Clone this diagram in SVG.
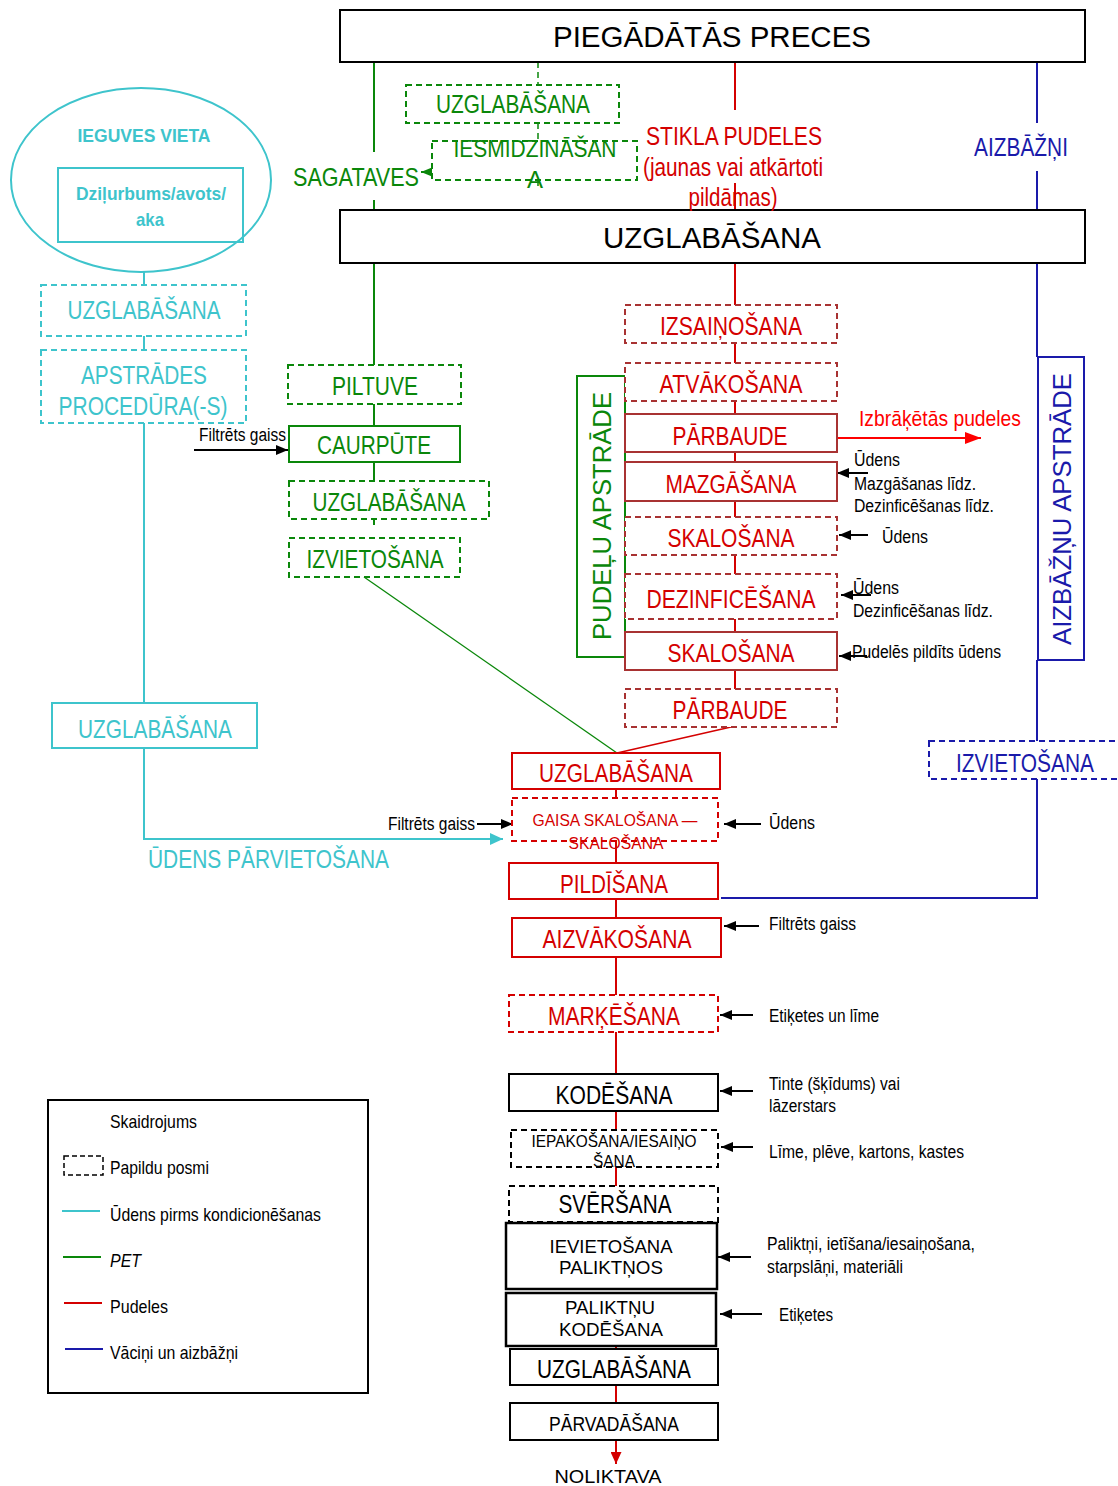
<svg xmlns="http://www.w3.org/2000/svg" width="1118" height="1486" viewBox="0 0 1118 1486">
<defs>
<style>
.n{font-family:"Liberation Sans Narrow","Liberation Sans","Arial Narrow",Arial,sans-serif}
.r{font-family:"Liberation Sans",Arial,sans-serif}
.b{font-weight:bold}
.i{font-style:italic}
.c{text-anchor:middle}
.fC{fill:#3ec4cc}.fG{fill:#0a870a}.fR{fill:#d40000}.fRR{fill:#ff0000}.fB{fill:#1a1aaa}.fK{fill:#000}
.box{fill:#fff;stroke-width:2}
.d{stroke-dasharray:6 4}
.kC{stroke:#3ec4cc}.kG{stroke:#0a870a}.kR{stroke:#d40000}.kDR{stroke:#a83232}.kB{stroke:#1a1aaa}.kK{stroke:#000}
.ln{fill:none;stroke-width:2}
.t17{font-size:17px}.t18{font-size:18px}.t19{font-size:19px}.t21{font-size:21px}.t22{font-size:22px}.t24{font-size:24px}.t25{font-size:25px}.t29{font-size:29.5px}
</style>
<marker id="aK" markerUnits="userSpaceOnUse" markerWidth="12" markerHeight="10" viewBox="0 0 12 10" refX="12" refY="5" orient="auto"><path d="M0,0L12,5L0,10z" fill="#000"/></marker>
<marker id="aG" markerUnits="userSpaceOnUse" markerWidth="11" markerHeight="9" viewBox="0 0 11 9" refX="11" refY="4.5" orient="auto"><path d="M0,0L11,4.5L0,9z" fill="#0a870a"/></marker>
<marker id="aC" markerUnits="userSpaceOnUse" markerWidth="13" markerHeight="12" viewBox="0 0 13 12" refX="13" refY="6" orient="auto"><path d="M0,0L13,6L0,12z" fill="#3ec4cc"/></marker>
<marker id="aRR" markerUnits="userSpaceOnUse" markerWidth="16" markerHeight="12" viewBox="0 0 16 12" refX="16" refY="6" orient="auto"><path d="M0,0L16,6L0,12z" fill="#ff0000"/></marker>
<marker id="aR" markerUnits="userSpaceOnUse" markerWidth="12" markerHeight="11" viewBox="0 0 12 11" refX="12" refY="5.5" orient="auto"><path d="M0,0L12,5.5L0,11z" fill="#d40000"/></marker>
</defs>
<rect width="1118" height="1486" fill="#fff"/>

<g id="connectors">
  <path class="ln kG" d="M374,62V152M374,200V210M374,263V365M374,404V426M374,462V481M374,519V525"/>
  <path class="ln kG" d="M364,577L617,753" style="stroke-width:1.3"/>
  <path class="ln kG d" style="stroke-width:1.5" d="M538,62V85M538,123V141M538,180V190"/>
  <path class="ln kG" d="M458,172H421" marker-end="url(#aG)"/>
  <path class="ln kR" d="M735,62V110M735,183V210M735,263V305M735,343V363M735,401V414M735,452V462M735,501V517M735,555V574M735,619V632M735,670V689"/>
  <path class="ln kR" style="stroke-width:1.5" d="M731,727L617,753"/>
  <path class="ln kR" d="M616,789V798M616,841V863M616,899V918M616,957V995M616,1032V1074M616,1111V1130M616,1167V1186M616,1346V1349M616,1385V1403"/>
  <path class="ln kR" d="M616,1440V1464" marker-end="url(#aR)"/>
  <path class="ln kB" d="M1037,62V123M1037,171V210M1037,263V357M1037,660V741M1037,779V898H721"/>
  <path class="ln kC" d="M144,272V285M144,336V350M144,423V703"/>
  <path class="ln kC" d="M144,748V839H503" marker-end="url(#aC)"/>
  <path class="ln" style="stroke:#ff0000" d="M838,438H981" marker-end="url(#aRR)"/>
  <g class="ln kK">
    <path d="M194,450H288" marker-end="url(#aK)"/>
    <path d="M868,473H837" marker-end="url(#aK)"/>
    <path d="M868,535H839" marker-end="url(#aK)"/>
    <path d="M871,595H841" marker-end="url(#aK)"/>
    <path d="M867,656H839" marker-end="url(#aK)"/>
    <path d="M477,824H513" marker-end="url(#aK)"/>
    <path d="M761,824H724" marker-end="url(#aK)"/>
    <path d="M759,926H724" marker-end="url(#aK)"/>
    <path d="M753,1015H720" marker-end="url(#aK)"/>
    <path d="M753,1091H720" marker-end="url(#aK)"/>
    <path d="M753,1147H721" marker-end="url(#aK)"/>
    <path d="M751,1257H718" marker-end="url(#aK)"/>
    <path d="M762,1314H720" marker-end="url(#aK)"/>
  </g>
</g>

<g id="piegadatas-preces">
  <rect class="box kK" x="340" y="10" width="745" height="52"/>
  <text class="r t29 fK c" x="712" y="47">PIEGĀDĀTĀS PRECES</text>
</g>
<g id="uzglabasana-main">
  <rect class="box kK" x="340" y="210" width="745" height="53"/>
  <text class="r t29 fK c" x="712" y="248">UZGLABĀŠANA</text>
</g>

<g id="ieguves-vieta">
  <ellipse cx="141" cy="180" rx="130" ry="92" fill="none" stroke="#3ec4cc" stroke-width="2"/>
  <text class="n b t19 fC c" x="144" y="142" textLength="133" lengthAdjust="spacingAndGlyphs">IEGUVES VIETA</text>
  <rect x="58" y="168" width="185" height="74" fill="none" stroke="#3ec4cc" stroke-width="2"/>
  <text class="n b t19 fC c" x="151" y="200" textLength="150" lengthAdjust="spacingAndGlyphs">Dziļurbums/avots/</text>
  <text class="n b t19 fC c" x="150" y="226" textLength="28" lengthAdjust="spacingAndGlyphs">aka</text>
</g>
<g id="uzglabasana-cyan1">
  <rect class="box kC d" x="41" y="285" width="205" height="51"/>
  <text class="n t25 fC c" x="144" y="319" textLength="153" lengthAdjust="spacingAndGlyphs">UZGLABĀŠANA</text>
</g>
<g id="apstrades-proceduras">
  <rect class="box kC d" x="41" y="350" width="205" height="73"/>
  <text class="n t25 fC c" x="144" y="384" textLength="126" lengthAdjust="spacingAndGlyphs">APSTRĀDES</text>
  <text class="n t25 fC c" x="143" y="415" textLength="169" lengthAdjust="spacingAndGlyphs">PROCEDŪRA(-S)</text>
</g>
<g id="uzglabasana-cyan2">
  <rect class="box kC" x="52" y="703" width="205" height="45"/>
  <text class="n t25 fC c" x="155" y="738" textLength="154" lengthAdjust="spacingAndGlyphs">UZGLABĀŠANA</text>
</g>
<g id="udens-parvietosana">
  <text class="n t25 fC" x="148" y="868" textLength="241" lengthAdjust="spacingAndGlyphs">ŪDENS PĀRVIETOŠANA</text>
</g>

<g id="uzglabasana-green-top">
  <rect class="box kG d" x="406" y="85" width="213" height="38"/>
  <text class="n t25 fG c" x="513" y="113" textLength="154" lengthAdjust="spacingAndGlyphs">UZGLABĀŠANA</text>
</g>
<g id="iesmidzinasana">
  <rect class="box kG d" x="432" y="141" width="205" height="39"/>
  <text class="n t24 fG c" x="535" y="157" textLength="163" lengthAdjust="spacingAndGlyphs">IESMIDZINĀŠAN</text>
  <text class="n t24 fG c" x="535" y="188">A</text>
</g>
<g id="sagataves">
  <text class="n t25 fG" x="293" y="186" textLength="126" lengthAdjust="spacingAndGlyphs">SAGATAVES</text>
</g>
<g id="piltuve">
  <rect class="box kG d" x="288" y="365" width="173" height="39"/>
  <text class="n t25 fG c" x="375" y="395" textLength="86" lengthAdjust="spacingAndGlyphs">PILTUVE</text>
</g>
<g id="caurpute">
  <rect class="box kG" x="289" y="426" width="171" height="36"/>
  <text class="n t25 fG c" x="374" y="454" textLength="114" lengthAdjust="spacingAndGlyphs">CAURPŪTE</text>
  <text class="n t18 fK" x="199" y="441" textLength="87" lengthAdjust="spacingAndGlyphs">Filtrēts gaiss</text>
</g>
<g id="uzglabasana-green">
  <rect class="box kG d" x="289" y="481" width="200" height="38"/>
  <text class="n t25 fG c" x="389" y="511" textLength="153" lengthAdjust="spacingAndGlyphs">UZGLABĀŠANA</text>
</g>
<g id="izvietosana-green">
  <rect class="box kG d" x="289" y="538" width="171" height="39"/>
  <text class="n t25 fG c" x="375" y="568" textLength="137" lengthAdjust="spacingAndGlyphs">IZVIETOŠANA</text>
</g>

<g id="stikla-pudeles">
  <text class="n t25 fR c" x="734" y="145" textLength="176" lengthAdjust="spacingAndGlyphs">STIKLA PUDELES</text>
  <text class="n t25 fR c" x="733" y="176" textLength="180" lengthAdjust="spacingAndGlyphs">(jaunas vai atkārtoti</text>
  <text class="n t25 fR c" x="733" y="206" textLength="89" lengthAdjust="spacingAndGlyphs">pildāmas)</text>
</g>
<g id="aizbazni">
  <text class="n t25 fB c" x="1021" y="156" textLength="94" lengthAdjust="spacingAndGlyphs">AIZBĀŽŅI</text>
</g>

<g id="pudelu-apstrade">
  <rect class="box kG" x="577" y="376" width="48" height="281"/>
  <text class="r t25 fG c" transform="translate(602,516) rotate(-90)" x="0" y="9" textLength="248" lengthAdjust="spacingAndGlyphs">PUDEĻU APSTRĀDE</text>
</g>
<g id="izsainosana">
  <rect class="box kDR d" x="625" y="305" width="212" height="38"/>
  <text class="n t25 fR c" x="731" y="335" textLength="142" lengthAdjust="spacingAndGlyphs">IZSAIŅOŠANA</text>
</g>
<g id="atvakosana">
  <rect class="box kDR d" x="625" y="363" width="212" height="38"/>
  <text class="n t25 fR c" x="731" y="393" textLength="143" lengthAdjust="spacingAndGlyphs">ATVĀKOŠANA</text>
</g>
<g id="parbaude1">
  <rect class="box kDR" x="625" y="414" width="212" height="38"/>
  <text class="n t25 fR c" x="730" y="445" textLength="115" lengthAdjust="spacingAndGlyphs">PĀRBAUDE</text>
  <text class="n t22 fRR" x="859" y="426" textLength="162" lengthAdjust="spacingAndGlyphs">Izbrāķētās pudeles</text>
</g>
<g id="mazgasana">
  <rect class="box kDR" x="625" y="462" width="212" height="39"/>
  <text class="n t25 fR c" x="731" y="493" textLength="131" lengthAdjust="spacingAndGlyphs">MAZGĀŠANA</text>
  <text class="n t18 fK" x="854" y="466" textLength="46" lengthAdjust="spacingAndGlyphs">Ūdens</text>
  <text class="n t18 fK" x="854" y="490" textLength="122" lengthAdjust="spacingAndGlyphs">Mazgāšanas līdz.</text>
  <text class="n t18 fK" x="854" y="512" textLength="140" lengthAdjust="spacingAndGlyphs">Dezinficēšanas līdz.</text>
</g>
<g id="skalosana1">
  <rect class="box kDR d" x="625" y="517" width="212" height="38"/>
  <text class="n t25 fR c" x="731" y="547" textLength="127" lengthAdjust="spacingAndGlyphs">SKALOŠANA</text>
  <text class="n t18 fK" x="882" y="543" textLength="46" lengthAdjust="spacingAndGlyphs">Ūdens</text>
</g>
<g id="dezinficesana">
  <rect class="box kDR d" x="625" y="574" width="212" height="45"/>
  <text class="n t25 fR c" x="731" y="608" textLength="169" lengthAdjust="spacingAndGlyphs">DEZINFICĒŠANA</text>
  <text class="n t18 fK" x="853" y="594" textLength="46" lengthAdjust="spacingAndGlyphs">Ūdens</text>
  <text class="n t18 fK" x="853" y="617" textLength="140" lengthAdjust="spacingAndGlyphs">Dezinficēšanas līdz.</text>
</g>
<g id="skalosana2">
  <rect class="box kDR" x="625" y="632" width="212" height="38"/>
  <text class="n t25 fR c" x="731" y="662" textLength="127" lengthAdjust="spacingAndGlyphs">SKALOŠANA</text>
  <text class="n t18 fK" x="852" y="658" textLength="149" lengthAdjust="spacingAndGlyphs">Pudelēs pildīts ūdens</text>
</g>
<g id="parbaude2">
  <rect class="box kDR d" x="625" y="689" width="212" height="38"/>
  <text class="n t25 fR c" x="730" y="719" textLength="115" lengthAdjust="spacingAndGlyphs">PĀRBAUDE</text>
</g>

<g id="aizbaznu-apstrade">
  <rect class="box kB" x="1038" y="357" width="46" height="303"/>
  <text class="r t25 fB c" transform="translate(1062,509) rotate(-90)" x="0" y="9" textLength="272" lengthAdjust="spacingAndGlyphs">AIZBĀŽŅU APSTRĀDE</text>
</g>
<g id="izvietosana-blue">
  <rect class="box kB d" x="929" y="741" width="200" height="38"/>
  <text class="n t25 fB c" x="1025" y="772" textLength="138" lengthAdjust="spacingAndGlyphs">IZVIETOŠANA</text>
</g>

<g id="uzglabasana-red">
  <rect class="box kR" x="512" y="753" width="208" height="36"/>
  <text class="n t25 fR c" x="616" y="782" textLength="154" lengthAdjust="spacingAndGlyphs">UZGLABĀŠANA</text>
</g>
<g id="gaisa-skalosana">
  <rect class="box kR d" x="512" y="798" width="206" height="43"/>
  <text class="n t17 fR c" x="615" y="826" textLength="165" lengthAdjust="spacingAndGlyphs">GAISA SKALOŠANA —</text>
  <text class="n t17 fR c" x="616" y="849" textLength="95" lengthAdjust="spacingAndGlyphs">SKALOŠANA</text>
  <text class="n t18 fK" x="388" y="830" textLength="87" lengthAdjust="spacingAndGlyphs">Filtrēts gaiss</text>
  <text class="n t18 fK" x="769" y="829" textLength="46" lengthAdjust="spacingAndGlyphs">Ūdens</text>
</g>
<g id="pildisana">
  <rect class="box kR" x="509" y="863" width="209" height="36"/>
  <text class="n t25 fR c" x="614" y="893" textLength="108" lengthAdjust="spacingAndGlyphs">PILDĪŠANA</text>
</g>
<g id="aizvakosana">
  <rect class="box kR" x="512" y="918" width="209" height="39"/>
  <text class="n t25 fR c" x="617" y="948" textLength="149" lengthAdjust="spacingAndGlyphs">AIZVĀKOŠANA</text>
  <text class="n t18 fK" x="769" y="930" textLength="87" lengthAdjust="spacingAndGlyphs">Filtrēts gaiss</text>
</g>
<g id="markesana">
  <rect class="box kR d" x="509" y="995" width="209" height="37"/>
  <text class="n t25 fR c" x="614" y="1025" textLength="132" lengthAdjust="spacingAndGlyphs">MARĶĒŠANA</text>
  <text class="n t18 fK" x="769" y="1022" textLength="110" lengthAdjust="spacingAndGlyphs">Etiķetes un līme</text>
</g>
<g id="kodesana">
  <rect class="box kK" x="509" y="1074" width="209" height="37"/>
  <text class="n t25 fK c" x="614" y="1104" textLength="117" lengthAdjust="spacingAndGlyphs">KODĒŠANA</text>
  <text class="n t18 fK" x="769" y="1090" textLength="131" lengthAdjust="spacingAndGlyphs">Tinte (šķīdums) vai</text>
  <text class="n t18 fK" x="769" y="1112" textLength="67" lengthAdjust="spacingAndGlyphs">lāzerstars</text>
</g>
<g id="iepakosana">
  <rect class="box kK d" x="511" y="1130" width="207" height="37"/>
  <text class="n t17 fK c" x="614" y="1147" textLength="165" lengthAdjust="spacingAndGlyphs">IEPAKOŠANA/IESAIŅO</text>
  <text class="n t17 fK c" x="614" y="1167" textLength="42" lengthAdjust="spacingAndGlyphs">ŠANA</text>
  <text class="n t18 fK" x="769" y="1158" textLength="195" lengthAdjust="spacingAndGlyphs">Līme, plēve, kartons, kastes</text>
</g>
<g id="sversana">
  <rect class="box kK d" x="509" y="1186" width="209" height="36"/>
  <text class="n t25 fK c" x="615" y="1213" textLength="113" lengthAdjust="spacingAndGlyphs">SVĒRŠANA</text>
</g>
<g id="ievietosana-paliktnos">
  <rect class="box kK" style="stroke-width:2.5" x="506" y="1223" width="211" height="66"/>
  <text class="r t18 fK c" x="611" y="1253" textLength="123" lengthAdjust="spacingAndGlyphs">IEVIETOŠANA</text>
  <text class="r t18 fK c" x="611" y="1274" textLength="104" lengthAdjust="spacingAndGlyphs">PALIKTŅOS</text>
  <text class="n t18 fK" x="767" y="1250" textLength="208" lengthAdjust="spacingAndGlyphs">Paliktņi, ietīšana/iesaiņošana,</text>
  <text class="n t18 fK" x="767" y="1273" textLength="136" lengthAdjust="spacingAndGlyphs">starpslāņi, materiāli</text>
</g>
<g id="paliktnu-kodesana">
  <rect class="box kK" style="stroke-width:2.5" x="506" y="1293" width="210" height="53"/>
  <text class="r t18 fK c" x="610" y="1314" textLength="90" lengthAdjust="spacingAndGlyphs">PALIKTŅU</text>
  <text class="r t18 fK c" x="611" y="1336" textLength="104" lengthAdjust="spacingAndGlyphs">KODĒŠANA</text>
  <text class="n t18 fK" x="779" y="1321" textLength="54" lengthAdjust="spacingAndGlyphs">Etiķetes</text>
</g>
<g id="uzglabasana-bottom">
  <rect class="box kK" x="510" y="1349" width="208" height="36"/>
  <text class="n t25 fK c" x="614" y="1378" textLength="154" lengthAdjust="spacingAndGlyphs">UZGLABĀŠANA</text>
</g>
<g id="parvadasana">
  <rect class="box kK" x="510" y="1403" width="208" height="37"/>
  <text class="n t21 fK c" x="614" y="1431" textLength="130" lengthAdjust="spacingAndGlyphs">PĀRVADĀŠANA</text>
</g>
<g id="noliktava">
  <text class="r t18 fK c" x="608" y="1483" textLength="107" lengthAdjust="spacingAndGlyphs">NOLIKTAVA</text>
</g>

<g id="legend">
  <rect x="48" y="1100" width="320" height="293" fill="#fff" stroke="#000" stroke-width="2"/>
  <text class="n t19 fK" x="110" y="1128" textLength="87" lengthAdjust="spacingAndGlyphs">Skaidrojums</text>
  <rect x="64" y="1156" width="39" height="19" fill="none" stroke="#000" stroke-width="1.5" stroke-dasharray="5 3"/>
  <text class="n t19 fK" x="110" y="1174" textLength="99" lengthAdjust="spacingAndGlyphs">Papildu posmi</text>
  <line x1="62" y1="1211" x2="100" y2="1211" stroke="#3ec4cc" stroke-width="2"/>
  <text class="n t19 fK" x="110" y="1221" textLength="211" lengthAdjust="spacingAndGlyphs">Ūdens pirms kondicionēšanas</text>
  <line x1="63" y1="1257" x2="101" y2="1257" stroke="#0a870a" stroke-width="2"/>
  <text class="n i t19 fK" x="110" y="1267" textLength="31" lengthAdjust="spacingAndGlyphs">PET</text>
  <line x1="64" y1="1303" x2="102" y2="1303" stroke="#d40000" stroke-width="2"/>
  <text class="n t19 fK" x="110" y="1313" textLength="58" lengthAdjust="spacingAndGlyphs">Pudeles</text>
  <line x1="65" y1="1349" x2="103" y2="1349" stroke="#1a1aaa" stroke-width="2"/>
  <text class="n t19 fK" x="110" y="1359" textLength="128" lengthAdjust="spacingAndGlyphs">Vāciņi un aizbāžņi</text>
</g>
</svg>
